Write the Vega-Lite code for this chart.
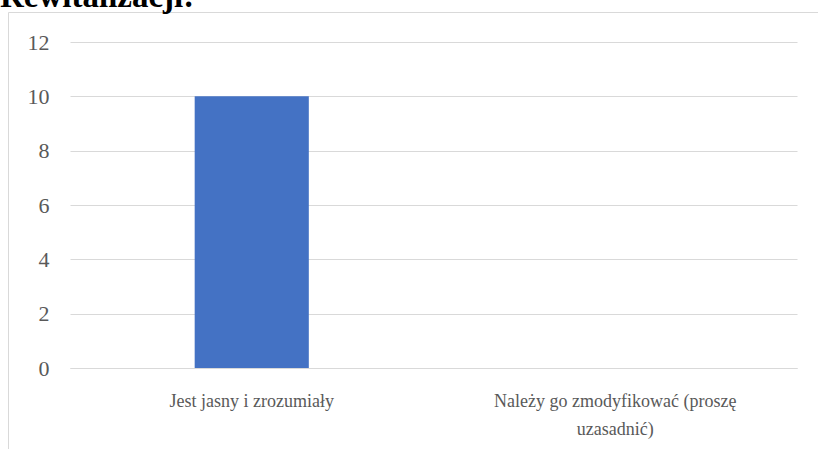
{
  "$schema": "https://vega.github.io/schema/vega-lite/v6.json",
  "autosize": "none",
  "padding": {"left": 8, "top": 12, "right": 0, "bottom": 0},
  "width": 811,
  "height": 438,
  "background": "white",
  "title": {
    "text": "Rewitalizacji:",
    "anchor": "start",
    "frame": "group",
    "orient": "top",
    "baseline": "alphabetic",
    "offset": -28,
    "dx": -8,
    "font": "Liberation Serif",
    "fontSize": 33,
    "fontWeight": "bold",
    "color": "#000000"
  },
  "config": {
    "view": {"stroke": "#d9d9d9", "strokeWidth": 1},
    "font": "Liberation Serif"
  },
  "data": {
    "values": [
      {"odpowiedz": "Jest jasny i zrozumiały", "liczba": 10},
      {"odpowiedz": "Należy go zmodyfikować (proszę uzasadnić)", "liczba": 0}
    ]
  },
  "mark": {"type": "bar", "color": "#4472C4"},
  "encoding": {
    "x": {
      "field": "odpowiedz",
      "type": "nominal",
      "sort": null,
      "scale": {"range": [62, 789], "paddingInner": 0.686, "paddingOuter": 0.343},
      "axis": {
        "title": null,
        "labelAngle": 0,
        "offset": -82,
        "ticks": false,
        "domainColor": "#d9d9d9",
        "domainWidth": 1,
        "labelFont": "Liberation Serif",
        "labelFontSize": 18,
        "labelColor": "#595959",
        "labelPadding": 24,
        "labelBaseline": "top",
        "labelLineHeight": 28,
        "labelLimit": 0,
        "labelExpr": "datum.label == 'Należy go zmodyfikować (proszę uzasadnić)' ? ['Należy go zmodyfikować (proszę', 'uzasadnić)'] : datum.label"
      }
    },
    "y": {
      "field": "liczba",
      "type": "quantitative",
      "scale": {"domain": [0, 12], "range": [356, 30], "nice": false, "zero": true},
      "axis": {
        "title": null,
        "values": [0, 2, 4, 6, 8, 10, 12],
        "offset": -49,
        "domain": false,
        "ticks": false,
        "grid": true,
        "gridColor": "#d9d9d9",
        "gridWidth": 1,
        "labelFont": "Liberation Serif",
        "labelFontSize": 22,
        "labelColor": "#595959",
        "labelPadding": 8
      }
    }
  }
}
